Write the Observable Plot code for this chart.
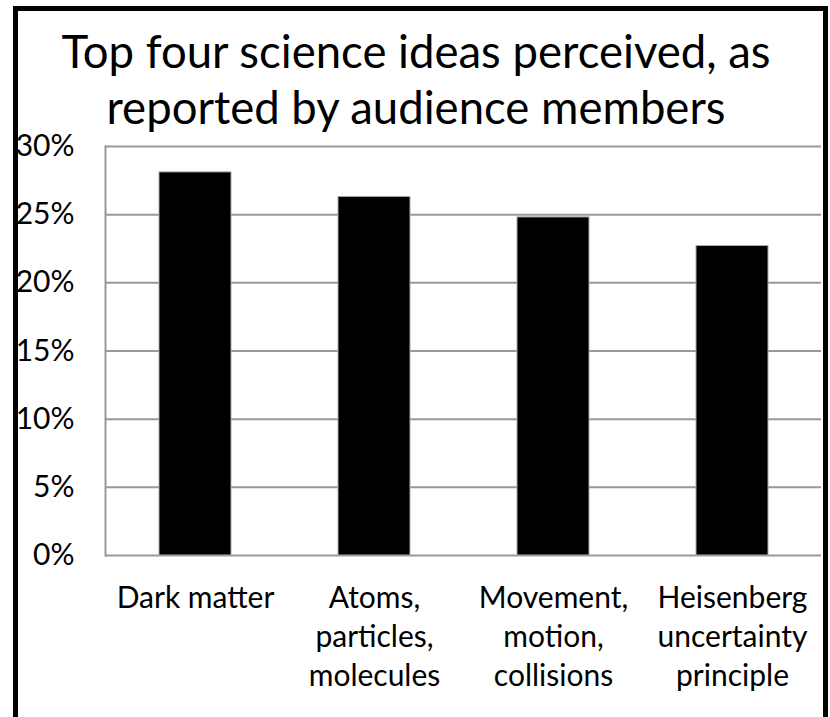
<!DOCTYPE html>
<html>
<head>
<meta charset="utf-8">
<script src="https://cdn.jsdelivr.net/npm/d3@7"></script>
<script src="https://cdn.jsdelivr.net/npm/@observablehq/plot@0.6"></script>
<style>
  html, body { margin: 0; padding: 0; background: #fff; overflow: hidden; }
  #frame {
    position: absolute; left: 13px; top: 6px; width: 805px; height: 760px;
    border: 5px solid #000; border-bottom: none; box-sizing: content-box;
  }
  #title {
    position: absolute; left: 0; top: 23px; width: 832px; text-align: center;
    font-family: Lato, "Open Sans", sans-serif; font-size: 45.5px; line-height: 56px; color: #000;
  }
  #chart { position: absolute; left: 0; top: 0; }
</style>
</head>
<body>
<div id="frame"></div>
<div id="chart"></div>
<div id="title">Top four science ideas perceived, as<br>reported by audience members</div>
<script>
const categories = ["Dark matter", "Atoms,\nparticles,\nmolecules", "Movement,\nmotion,\ncollisions", "Heisenberg\nuncertainty\nprinciple"];
const values = [0.281, 0.263, 0.248, 0.227];
const yTicks = [0, 0.05, 0.10, 0.15, 0.20, 0.25, 0.30];

const data = categories.map((c, i) => ({category: c, value: values[i]}));

const chart = Plot.plot({
  width: 830,
  height: 717,
  marginLeft: 105,
  marginRight: 9,
  marginTop: 146,
  marginBottom: 162,
  style: {fontFamily: "Lato, 'Open Sans', sans-serif", fontSize: "30px", color: "#000", background: "transparent"},
  x: {domain: categories, paddingInner: 0.6, paddingOuter: 0.3, axis: null},
  y: {domain: [0, 0.3], ticks: yTicks, tickFormat: d3.format(".0%"), label: null},
  marks: [
    Plot.gridY(yTicks, {stroke: "#999", strokeWidth: 2, strokeOpacity: 1}),
    Plot.frame({anchor: "left", stroke: "#999", strokeWidth: 2}),
    Plot.axisY({ticks: yTicks, tickFormat: d3.format(".0%"), tickSize: 0, tickPadding: 31, fontSize: 30, label: null}),
    Plot.barY(data, {x: "category", y: "value", fill: "#000", stroke: "#aaa", strokeWidth: 1}),
    Plot.text(data, {x: "category", y: () => 0, text: "category", lineAnchor: "top", lineHeight: 1.3, dy: 25, fontSize: 30, fill: "#000"})
  ]
});
document.getElementById("chart").appendChild(chart);
</script>
</body>
</html>
